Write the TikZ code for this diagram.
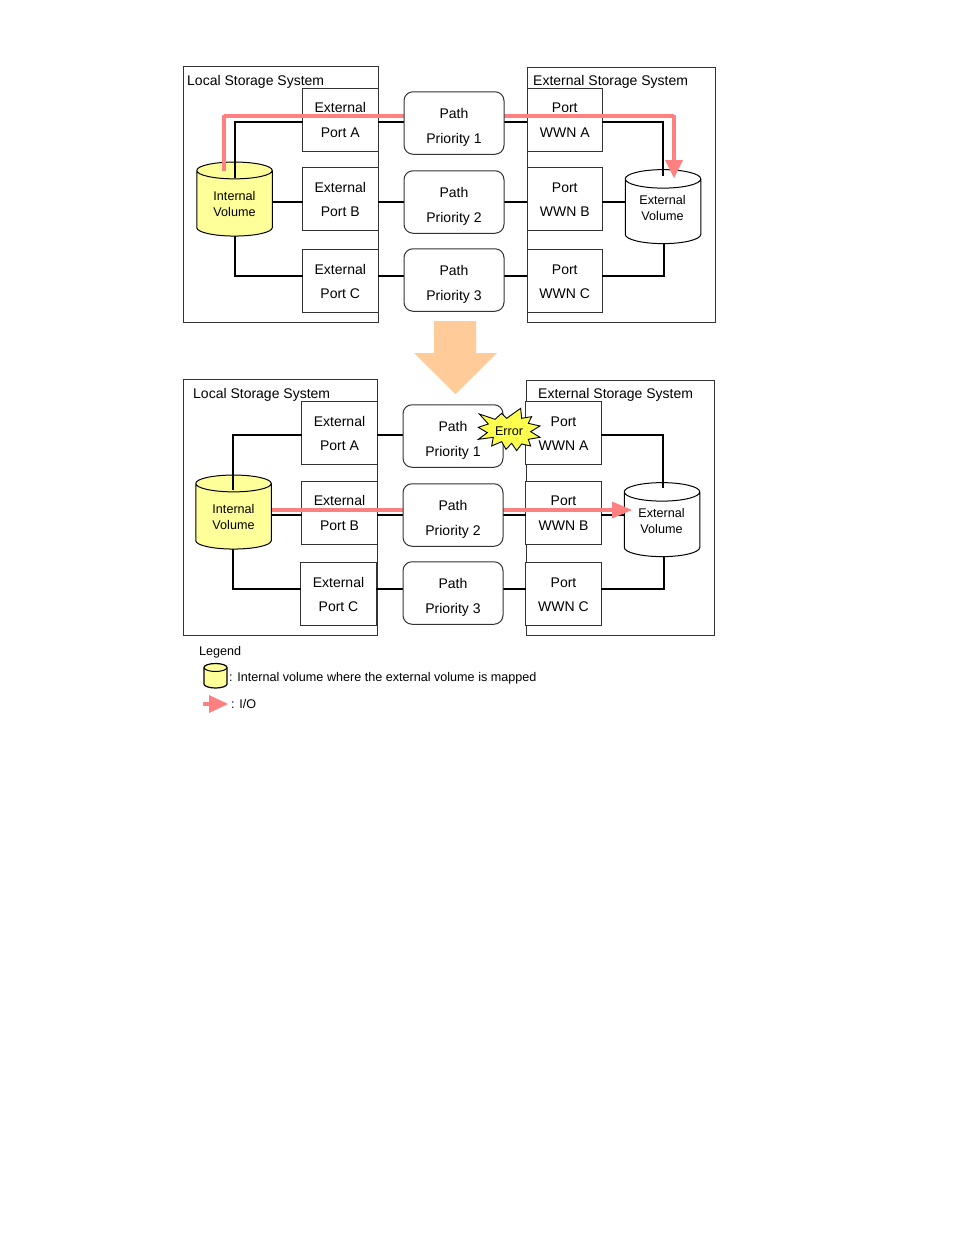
\documentclass[tikz,border=0pt]{standalone}
\usepackage{fontspec}
\setmainfont{Liberation Sans}
\usetikzlibrary{shapes.geometric,calc}
\definecolor{pinkio}{HTML}{FF8080}
\definecolor{volyellow}{HTML}{FFFF99}
\definecolor{burst}{HTML}{FFFF4D}
\definecolor{bigarrow}{HTML}{FFCC99}
\definecolor{edge}{HTML}{333333}
\tikzset{
  panel/.style={draw=edge,line width=1pt,fill=white,inner sep=0pt},
  portbox/.style={draw=edge,line width=1pt,fill=white,inner sep=0pt,minimum width=75.5pt,minimum height=63pt},
  pathbox/.style={portbox,rounded corners=9pt,minimum width=100pt,minimum height=62.5pt},
  vol/.style={cylinder,shape border rotate=90,aspect=0.4,draw=black,line width=1pt,inner sep=0pt,align=center,minimum width=75.5pt,minimum height=74pt,font=\fontsize{12.6}{16}\selectfont},
  conn/.style={draw=black,line width=2pt},
  io/.style={draw=pinkio,line width=3.5pt},
  iohead/.style={fill=pinkio,draw=none},
  lbl/.style={anchor=west,inner sep=0pt,font=\fontsize{14}{16}\selectfont},
  leg/.style={anchor=west,inner sep=0pt,font=\fontsize{12.6}{15}\selectfont},
  boxtext/.style={anchor=base,inner sep=0pt,font=\fontsize{14}{16}\selectfont},
  voltext/.style={anchor=base,inner sep=0pt,font=\fontsize{12.6}{16}\selectfont},
}
% name of the box, text of its two lines, baselines relative to its centre
\newcommand{\porttext}[3]{%
  \node[boxtext] (#1t) at ($(#1.center)+(0,-6.8)$) {#2};
  \node[boxtext] (#1b) at ($(#1.center)+(0,17.5)$) {#3};}
\newcommand{\pathtext}[3]{%
  \node[boxtext] (#1t) at ($(#1.center)+(0,-5)$) {#2};
  \node[boxtext] (#1b) at ($(#1.center)+(0,20)$) {#3};}
\newcommand{\volspace}{\phantom{External}\\\phantom{Volume}}
\begin{document}
\begin{tikzpicture}[x=1pt,y=-1pt]
\useasboundingbox (0,0) rectangle (954,1235);
\fill[white] (0,0) rectangle (954,1235);
% ---------- upper panels
\node[panel,minimum height=256pt,minimum width=195pt] (lsA) at (280.5,194) {};
\node[panel,minimum height=255pt,minimum width=188pt] (esA) at (621,194.5) {};
\node[lbl] (lsAt) at (187,82) {Local Storage System};
\node[lbl] (esAt) at (533,82) {External Storage System};
\node[vol,fill=volyellow] (ivA) at (234.5,203.5) {Internal\\Volume};
\node[vol,fill=white] (evA) at (663,211.5) {\volspace};
\node[voltext] (evAt1) at (662.5,204.5) {External};
\node[voltext] (evAt2) at (662.5,220.5) {Volume};
\coordinate (ivAt) at (235,178);
\coordinate (evAt) at (663,176);
\coordinate (ivAb) at (235,236);
\coordinate (evAb) at (664,244);
\coordinate (ioAs) at (224,171);
\coordinate (ioAe) at (674,164);
\node[portbox] (eA) at (340.25,119.5) {};
\node[portbox] (eB) at (340.25,199) {};
\node[portbox] (eC) at (340.25,281) {};
\node[portbox] (wA) at (564.75,119.5) {};
\node[portbox] (wB) at (564.75,199) {};
\node[portbox] (wC) at (564.75,281) {};
\draw[conn] (ivAt) -- (235,122) -- (302.5,122);
\draw[conn] (272,202) -- (302.5,202);
\draw[conn] (ivAb) -- (235,276) -- (302.5,276);
\draw[conn] (378,122) -- (404,122) (378,202) -- (404,202) (378,276) -- (404,276);
\draw[conn] (504,122) -- (527,122) (504,202) -- (527,202) (504,276) -- (527,276);
\draw[conn] (602,122) -- (663,122) -- (evAt);
\draw[conn] (602,202) -- (625,202);
\draw[conn] (602,276) -- (664,276) -- (evAb);
\draw[io] (224,116) -- (674,116);
\draw[io,line width=4.5pt] (ioAs) -- (224,114.5);
\draw[io,line width=4.5pt] (674,114.5) -- (ioAe);
\fill[iohead] (665,160) -- (683,160) -- (674,178) -- cycle;
\node[pathbox] (pA) at (454,123) {};
\node[pathbox] (pB) at (454,202) {};
\node[pathbox] (pC) at (454,280) {};
\porttext{eA}{External}{Port A}
\porttext{eB}{External}{Port B}
\porttext{eC}{External}{Port C}
\porttext{wA}{Port}{WWN A}
\porttext{wB}{Port}{WWN B}
\porttext{wC}{Port}{WWN C}
\pathtext{pA}{Path}{Priority 1}
\pathtext{pB}{Path}{Priority 2}
\pathtext{pC}{Path}{Priority 3}
% ---------- big arrow
\fill[bigarrow] (434,321) -- (476,321) -- (476,353) -- (497,353) -- (455.5,394) -- (414,353) -- (434,353) -- cycle;
% ---------- lower panels
\node[panel,minimum height=256pt,minimum width=194pt] (lsB) at (280,507) {};
\node[panel,minimum height=255pt,minimum width=188pt] (esB) at (620,507.5) {};
\node[lbl] (lsBt) at (193,395) {Local Storage System};
\node[lbl] (esBt) at (538,395) {External Storage System};
\node[vol,fill=volyellow] (ivB) at (233.5,516.5) {Internal\\Volume};
\node[vol,fill=white] (evB) at (662,524.5) {\volspace};
\node[voltext] (evBt1) at (661.5,517.5) {External};
\node[voltext] (evBt2) at (661.5,533.5) {Volume};
\coordinate (ivBt) at (233,490);
\coordinate (evBt) at (663,488);
\coordinate (ivBb) at (233,549);
\coordinate (evBb) at (664,557);
\node[portbox] (fA) at (339.5,433) {};
\node[portbox] (fB) at (339.5,512.5) {};
\node[portbox] (fC) at (338.5,594) {};
\node[portbox] (xA) at (563.5,433) {};
\node[portbox] (xB) at (563.5,512.5) {};
\node[portbox] (xC) at (563.5,594) {};
\draw[conn] (ivBt) -- (233,435) -- (302,435);
\draw[conn] (272,515) -- (302,515);
\draw[conn] (ivBb) -- (233,589) -- (301,589);
\draw[conn] (377,435) -- (403,435) (377,515) -- (403,515) (376,589) -- (403,589);
\draw[conn] (503,515) -- (526,515) (503,589) -- (526,589);
\draw[conn] (601,435) -- (663,435) -- (evBt);
\draw[conn] (601,515) -- (624,515);
\draw[conn] (601,589) -- (664,589) -- (evBb);
\draw[io] (272,510) -- (403,510) (503,510) -- (616,510);
\fill[iohead] (612,501.5) -- (632,510) -- (612,518.5) -- cycle;
\node[pathbox] (qA) at (453,436) {};
\node[pathbox] (qB) at (453,515) {};
\node[pathbox] (qC) at (453,593) {};
\porttext{fA}{External}{Port A}
\porttext{fB}{External}{Port B}
\porttext{fC}{External}{Port C}
\porttext{xA}{Port}{WWN A}
\porttext{xB}{Port}{WWN B}
\porttext{xC}{Port}{WWN C}
\pathtext{qA}{Path}{Priority 1}
\pathtext{qB}{Path}{Priority 2}
\pathtext{qC}{Path}{Priority 3}
% ---------- error burst
\begin{scope}[shift={(400,320)},x=0.3333pt,y=-0.3333pt]
\filldraw[fill=burst,draw=black,line width=0.9pt,line join=miter]
 (238,282) -- (285,298) -- (305,280) -- (320,295) -- (362,265) -- (365,295) -- (395,290) -- (385,310) -- (420,318) -- (392,335) -- (420,352) -- (385,358) -- (392,378) -- (365,372) -- (350,392) -- (335,370) -- (318,388) -- (305,365) -- (275,378) -- (280,352) -- (235,358) -- (262,338) -- (235,322) -- (265,312) -- cycle;
\end{scope}
\node[inner sep=0pt,font=\fontsize{12.6}{15}\selectfont] (err) at (509,431) {Error};
% ---------- legend
\node[leg] (lg) at (199,652) {Legend};
\filldraw[fill=volyellow,draw=black,line width=1.2pt]
  (204,667.5) arc[start angle=180,end angle=0,x radius=11.5pt,y radius=4pt]
  -- (227,684) arc[start angle=0,end angle=-180,x radius=11.5pt,y radius=4pt] -- cycle;
\draw[black,line width=1pt] (204,667.5) arc[start angle=180,end angle=360,x radius=11.5pt,y radius=4pt];
\node[leg] (lgt) at (229,678.5) {: Internal volume where the external volume is mapped};
\coordinate (lga) at (203,704);
\coordinate (lgb) at (212,704);
\draw[io,line width=4.5pt] (lga) -- (lgb);
\fill[iohead] (209,695) -- (228,704) -- (209,713) -- cycle;
\node[leg] (lgi) at (231,704) {: I/O};
\end{tikzpicture}
\end{document}
